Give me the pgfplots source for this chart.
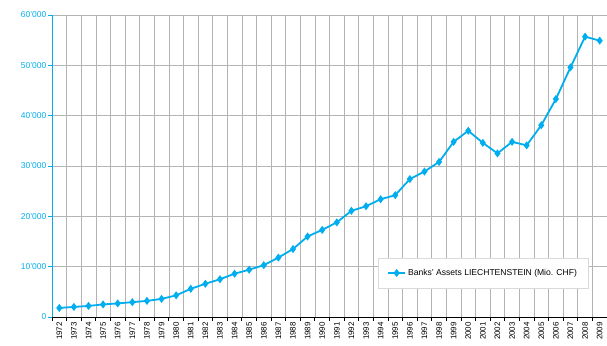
\documentclass[border=0pt]{standalone}
\usepackage{pgfplots}
\pgfplotsset{compat=1.18}
\usepackage{fontspec}
\setmainfont{Liberation Sans}
\definecolor{cy}{HTML}{00AEEF}
\definecolor{gr}{HTML}{B4B4B4}
\begin{document}
\begin{tikzpicture}
\begin{axis}[
  scale only axis,
  width=555bp, height=302bp,
  xmin=1971.5, xmax=2009.5,
  ymin=0, ymax=60000,
  scaled y ticks=false,
  axis x line*=bottom,
  axis y line*=left,
  x axis line style={black, line width=0.9pt, -},
  y axis line style={cy, line width=1pt, -},
  xtick={1971.5,1972.5,...,2009.5},
  x tick label as interval,
  xticklabels={1972,1973,1974,1975,1976,1977,1978,1979,1980,1981,1982,1983,1984,1985,1986,1987,1988,1989,1990,1991,1992,1993,1994,1995,1996,1997,1998,1999,2000,2001,2002,2003,2004,2005,2006,2007,2008,2009},
  x tick label style={rotate=90, anchor=east, font=\fontsize{8}{9}\selectfont, black, inner sep=1.5pt},
  ytick={0,10000,...,60000},
  yticklabels={0,10'000,20'000,30'000,40'000,50'000,60'000},
  y tick label style={font=\fontsize{8.5}{9}\selectfont, cy, inner sep=2pt},
  tick align=outside,
  major tick length=3.5bp,
  x tick style={black, line width=0.8pt},
  y tick style={cy, line width=0.8pt},
  grid=major,
  major grid style={gr, line width=0.6pt},
  legend style={at={(0.966,0.096)}, anchor=south east, draw=gray!30, font=\fontsize{8.6}{10}\selectfont, inner xsep=9bp, inner ysep=9bp, legend cell align=left},
]
\addplot[cy, line width=1.8pt, mark=diamond*, mark size=2.6pt, mark options={cy, solid}] coordinates {
(1972,1800) (1973,2000) (1974,2200) (1975,2500) (1976,2700) (1977,2950) (1978,3200) (1979,3600) (1980,4300) (1981,5600)
(1982,6600) (1983,7500) (1984,8600) (1985,9400) (1986,10300) (1987,11800) (1988,13500) (1989,16000) (1990,17300) (1991,18800)
(1992,21100) (1993,22000) (1994,23400) (1995,24200) (1996,27400) (1997,28900) (1998,30800) (1999,34800) (2000,37000) (2001,34600)
(2002,32500) (2003,34800) (2004,34100) (2005,38100) (2006,43300) (2007,49600) (2008,55700) (2009,54900)
};
\addlegendentry{Banks' Assets LIECHTENSTEIN (Mio. CHF)}
\end{axis}
\pgfresetboundingbox
\path (-52bp,-29bp) rectangle (555bp,317bp);
\end{tikzpicture}
\end{document}
